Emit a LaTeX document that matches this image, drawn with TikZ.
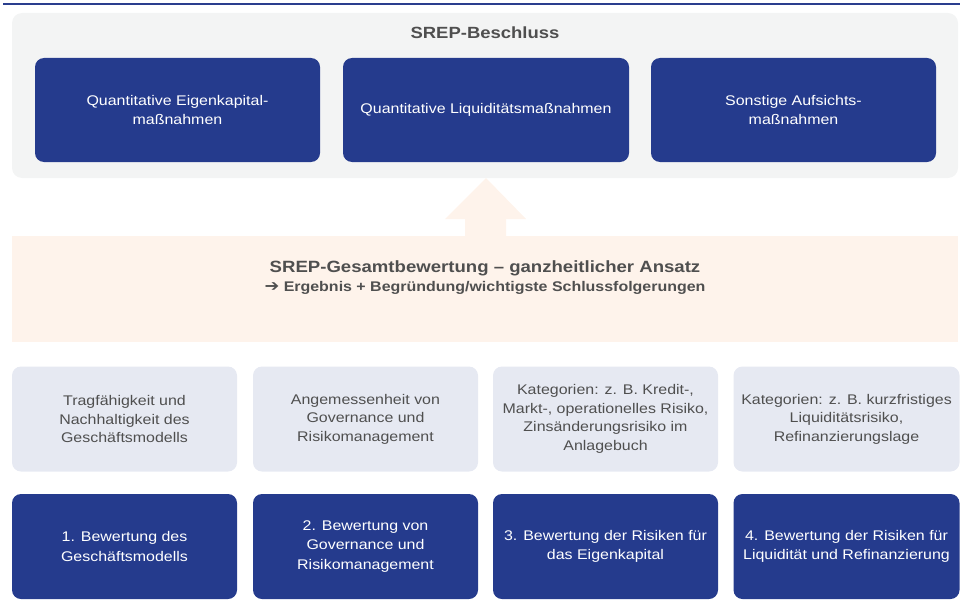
\documentclass[tikz,border=0pt]{standalone}
\usepackage{fontspec}
\setmainfont{Liberation Sans}[FakeStretch=1.14]
\newfontfamily\symfont{DejaVu Sans}[FakeStretch=1.1]
\definecolor{blueD}{HTML}{253B8D}
\definecolor{lineB}{HTML}{2A3E8E}
\definecolor{grayP}{HTML}{F3F4F4}
\definecolor{peach}{HTML}{FEF3EB}
\definecolor{lightB}{HTML}{E6E9F2}
\definecolor{textG}{HTML}{4F4F4F}
\tikzset{
  bluebox/.style={fill=blueD, draw=none, rounded corners=9pt, text=white,
    align=center, font=\fontsize{14}{19.5}\selectfont, inner sep=4pt},
  graybox/.style={fill=lightB, draw=none, rounded corners=9pt, text=textG,
    align=center, font=\fontsize{14}{18.5}\selectfont, inner sep=4pt},
  panel/.style={fill=grayP, draw=none, rounded corners=10pt},
}
\begin{document}
\begin{tikzpicture}[x=1pt,y=-1pt]
\useasboundingbox (0,0) rectangle (965,607);
% top line
\draw[lineB, line width=2pt] (3,4) -- (960,4);
% top panel
\node[panel, minimum width=946pt, minimum height=165pt] (top) at (485,95.5) {};
\node[text=textG, font=\bfseries\fontsize{16.2}{20}\selectfont] (beschluss) at (485,33) {SREP-Beschluss};
\node[bluebox, minimum width=285pt, minimum height=104pt] (q1) at (177.5,110) {Quantitative Eigenkapital-\\maßnahmen};
\node[bluebox, minimum width=286pt, minimum height=104pt] (q2) at (486,110) {Quantitative Liquiditätsmaßnahmen};
\node[bluebox, minimum width=285pt, minimum height=104pt] (q3) at (793.5,110) {Sonstige Aufsichts-\\maßnahmen};
% arrow
\fill[peach] (465,237) -- (465,219) -- (445,219) -- (486,178) -- (526,219) -- (506,219) -- (506,237) -- cycle;
% peach band
\node[fill=peach, draw=none, minimum width=946pt, minimum height=106pt, inner sep=0pt] (band) at (485,289) {};
\node[text=textG, font=\bfseries\fontsize{16.3}{20}\selectfont] (gesamt) at (485,268) {SREP-Gesamtbewertung – ganzheitlicher Ansatz};
\node[text=textG, font=\bfseries\fontsize{14}{16}\selectfont] (ergebnis) at (485,288) {{\symfont\bfseries\fontsize{16}{16}\selectfont ➔} Ergebnis + Begründung/wichtigste Schlussfolgerungen};
% gray boxes
\node[graybox, minimum width=225pt, minimum height=105pt] (g1) at (124.5,419) {Tragfähigkeit und\\Nachhaltigkeit des\\Geschäftsmodells};
\node[graybox, minimum width=225pt, minimum height=105pt] (g2) at (365.5,419) {Angemessenheit von\\Governance und\\Risikomanagement};
\node[graybox, minimum width=225pt, minimum height=105pt] (g3) at (605.5,419) {Kategorien: z. B. Kredit-,\\Markt-, operationelles Risiko,\\Zinsänderungsrisiko im\\Anlagebuch};
\node[graybox, minimum width=226pt, minimum height=105pt] (g4) at (846.5,419) {Kategorien: z. B. kurzfristiges\\Liquiditätsrisiko,\\Refinanzierungslage};
% bottom blue boxes
\node[bluebox, minimum width=225pt, minimum height=105pt] (b1) at (124.5,546.5) {1. Bewertung des\\Geschäftsmodells};
\node[bluebox, minimum width=225pt, minimum height=105pt] (b2) at (365.5,546.5) {2. Bewertung von\\Governance und\\Risikomanagement};
\node[bluebox, minimum width=225pt, minimum height=105pt] (b3) at (605.5,546.5) {3. Bewertung der Risiken für\\das Eigenkapital};
\node[bluebox, minimum width=226pt, minimum height=105pt] (b4) at (846.5,546.5) {4. Bewertung der Risiken für\\Liquidität und Refinanzierung};
\end{tikzpicture}
\end{document}
